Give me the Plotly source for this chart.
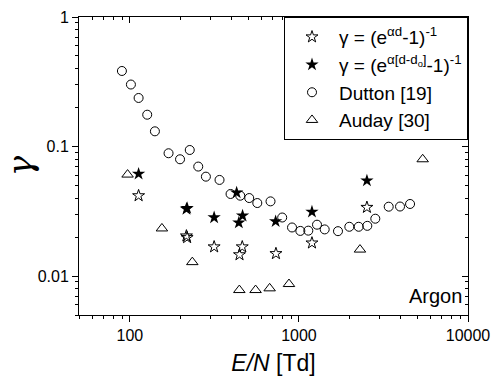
import plotly.graph_objects as go
import numpy as np

# Data
dutton_x = [89.7, 101.4, 112.6, 126.6, 140.6, 169.3, 198, 226, 253.7, 281.6, 339, 394, 449.6, 508, 567, 679,
            796, 910, 1019, 1136, 1279, 1420, 1702, 1986, 2256, 2537, 2829, 3396, 3962, 4542]
dutton_y = [0.383, 0.301, 0.237, 0.176, 0.131, 0.0887, 0.0797, 0.094, 0.070, 0.0585, 0.0552, 0.043, 0.0417, 0.040, 0.0366, 0.0377,
            0.0283, 0.0237, 0.0223, 0.0224, 0.0249, 0.0229, 0.0222, 0.024, 0.024, 0.0244, 0.0277, 0.0343, 0.0344, 0.036]

star_open_x = [112.6, 216, 218, 315, 445, 462, 731, 1194, 2524]
star_open_y = [0.0417, 0.0204, 0.0198, 0.0168, 0.0146, 0.0168, 0.0149, 0.018, 0.0339]

star_fill_x = [112.6, 216, 218, 315, 428, 441, 464, 728, 1194, 2524]
star_fill_y = [0.0614, 0.0329, 0.0334, 0.0283, 0.044, 0.0258, 0.0292, 0.0264, 0.0313, 0.0545]

auday_x = [96.9, 154.7, 234, 444, 554, 671, 873, 2296, 5394]
auday_y = [0.0607, 0.0233, 0.0128, 0.00779, 0.00779, 0.00803, 0.00867, 0.016, 0.0797]

names = ["γ = (e<sup>αd</sup>-1)<sup>-1</sup>",
         "γ = (e<sup>α[d-d<sub>o</sub>]</sup>-1)<sup>-1</sup>",
         "Dutton [19]",
         "Auday [30]"]

FONT = "Arial, Liberation Sans, sans-serif"

fig = go.Figure()
fig.add_trace(go.Scatter(x=star_open_x, y=star_open_y, mode="markers", name=names[0],
                         marker=dict(symbol="star-open", size=9, color="black", line=dict(width=1, color="black"))))
fig.add_trace(go.Scatter(x=star_fill_x, y=star_fill_y, mode="markers", name=names[1],
                         marker=dict(symbol="star", size=10, color="black", line=dict(width=0))))
fig.add_trace(go.Scatter(x=dutton_x, y=dutton_y, mode="markers", name=names[2],
                         marker=dict(symbol="circle-open", size=9, color="black", line=dict(width=1, color="black"))))
fig.add_trace(go.Scatter(x=auday_x, y=auday_y, mode="markers", name=names[3],
                         marker=dict(symbol="triangle-up-open", size=10, color="black", line=dict(width=1, color="black"))))

# mirrored axes with inward ticks (top/right)
fig.add_trace(go.Scatter(x=[100], y=[0.1], xaxis="x2", yaxis="y2", mode="markers",
                         marker=dict(opacity=0), showlegend=False, hoverinfo="skip"))

xr = [np.log10(50), 4]
yr = [np.log10(0.005), 0]

fig.update_layout(
    width=494, height=376,
    margin=dict(l=79, r=26, t=17, b=61),
    plot_bgcolor="white", paper_bgcolor="white",
    font=dict(family=FONT, color="black", size=16),
    showlegend=True,
    legend=dict(x=1, xanchor="right", y=1, yanchor="top",
                bordercolor="black", borderwidth=1, bgcolor="white",
                font=dict(size=19, family=FONT), tracegroupgap=0,
                itemwidth=44),
    xaxis=dict(type="log", range=xr, dtick=1, showgrid=False, zeroline=False, automargin=False,
               showline=True, linecolor="black", linewidth=1,
               ticks="outside", ticklen=6, tickcolor="black", tickformat="d",
               minor=dict(ticks="outside", ticklen=3, tickcolor="black", showgrid=False),
               tickfont=dict(size=16),
               title=dict(text="<i>E/N</i> [Td]", font=dict(size=23), standoff=12)),
    yaxis=dict(type="log", range=yr, dtick=1, showgrid=False, zeroline=False, automargin=False,
               showline=True, linecolor="black", linewidth=1,
               ticks="outside", ticklen=6, tickcolor="black",
               minor=dict(ticks="outside", ticklen=3, tickcolor="black", showgrid=False),
               exponentformat="none", tickfont=dict(size=16),
               title=dict(text="<i>γ</i>", font=dict(size=34, family="DejaVu Serif, serif"), standoff=20)),
    xaxis2=dict(type="log", range=xr, dtick=1, overlaying="x", side="top", showgrid=False, automargin=False,
                zeroline=False, showline=True, linecolor="black", linewidth=1,
                ticks="inside", ticklen=6, tickcolor="black", showticklabels=False,
                minor=dict(ticks="inside", ticklen=3, tickcolor="black", showgrid=False)),
    yaxis2=dict(type="log", range=yr, dtick=1, overlaying="y", side="right", showgrid=False, automargin=False,
                zeroline=False, showline=True, linecolor="black", linewidth=1,
                ticks="inside", ticklen=6, tickcolor="black", showticklabels=False,
                minor=dict(ticks="inside", ticklen=3, tickcolor="black", showgrid=False)),
    annotations=[dict(text="Argon", xref="paper", yref="paper", x=0.99, y=0.02,
                      xanchor="right", yanchor="bottom", showarrow=False,
                      font=dict(size=20, family=FONT))],
)

fig.write_html("out.html", config={"displayModeBar": False},
               post_script="document.body.style.margin='0px';document.body.style.padding='0px';")
